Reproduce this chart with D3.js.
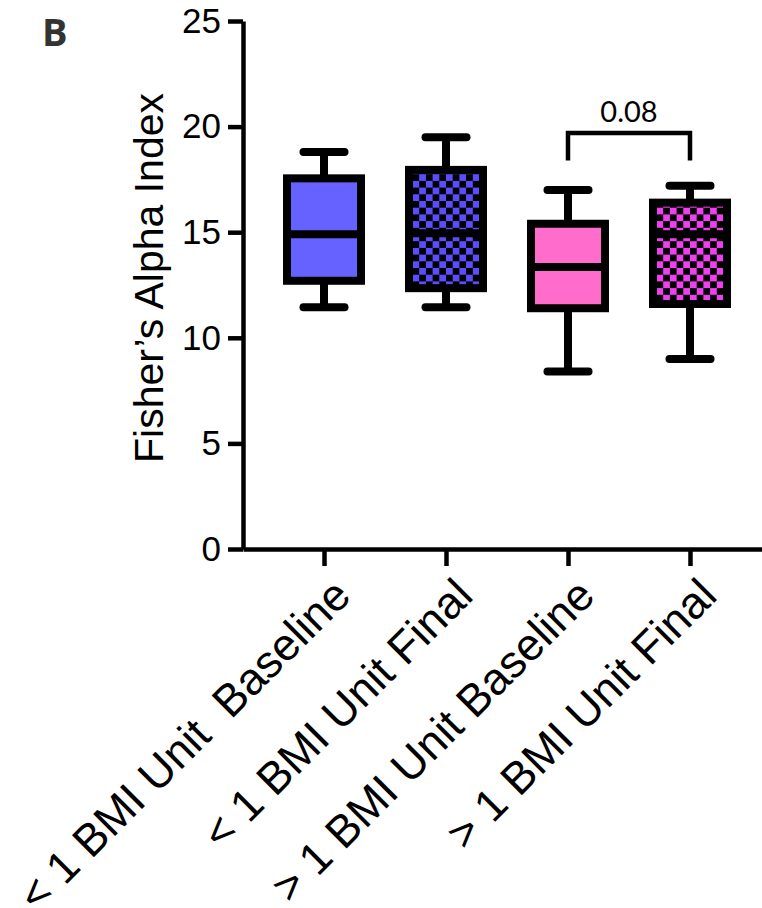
<!DOCTYPE html>
<html>
<head>
<meta charset="utf-8">
<script src="https://cdn.jsdelivr.net/npm/d3@7"></script>
<style>
  html, body { margin: 0; padding: 0; background: #fff; }
  svg { display: block; }
</style>
</head>
<body>
<svg id="chart" width="762" height="908"></svg>
<script>
// Fisher's alpha diversity by BMI-change group and time point
const groups = ["< 1 BMI Unit  Baseline", "< 1 BMI Unit Final", "> 1 BMI Unit Baseline", "> 1 BMI Unit Final"];
const whiskerLow  = [11.45, 11.45, 8.4, 9.0];
const quartile1   = [12.7, 12.35, 11.4, 11.6];
const medians     = [14.9, 14.95, 13.35, 14.9];
const quartile3   = [17.55, 17.95, 15.4, 16.4];
const whiskerHigh = [18.8, 19.5, 17.0, 17.2];
const fillColors  = ["#6562ff", "#5b4cff", "#ff6ccb", "#f03ff0"];
const checkered   = [false, true, false, true];
const yTicks = [0, 5, 10, 15, 20, 25];

// comparison bracket between the two ">1 BMI Unit" groups
const comparison = { from: 2, to: 3, level: 19.7, drop: 18.4, label: "0.08" };

const svg = d3.select("#chart");
const font = "'Liberation Sans', Arial, sans-serif";

const y = d3.scaleLinear().domain([0, 25]).range([549, 21]);
const x = d3.scalePoint().domain(groups).range([243, 771]).padding(0.664);

const boxW = 74, capHalf = 20.5, lw = 8;

// checkerboard fills
const defs = svg.append("defs");
groups.forEach((g, i) => {
  if (!checkered[i]) return;
  const p = defs.append("pattern")
    .attr("id", "check" + i)
    .attr("patternUnits", "userSpaceOnUse")
    .attr("width", 13.4).attr("height", 13.4);
  p.append("rect").attr("width", 13.4).attr("height", 13.4).attr("fill", "#000");
  p.append("rect").attr("x", 0).attr("y", 0).attr("width", 6.7).attr("height", 6.7).attr("fill", fillColors[i]);
  p.append("rect").attr("x", 6.7).attr("y", 6.7).attr("width", 6.7).attr("height", 6.7).attr("fill", fillColors[i]);
});

// panel letter
svg.append("text")
  .attr("x", 42).attr("y", 46)
  .attr("font-family", "'Open Sans', sans-serif")
  .attr("font-weight", 700)
  .attr("font-size", 38)
  .attr("fill", "#333")
  .text("B");

// y axis
const yAxis = svg.append("g")
  .attr("transform", `translate(${x.range()[0]},0)`)
  .call(d3.axisLeft(y).tickValues(yTicks).tickSize(15).tickSizeOuter(0).tickPadding(7));
yAxis.select(".domain").attr("stroke", "#000").attr("stroke-width", 4.5);
yAxis.selectAll(".tick line").attr("stroke", "#000").attr("stroke-width", 4.5);
yAxis.selectAll(".tick text")
  .attr("font-family", font).attr("font-size", 35).attr("fill", "#000");

// x axis
const xAxis = svg.append("g")
  .attr("transform", `translate(0,${y(0)})`)
  .call(d3.axisBottom(x).tickSize(17).tickSizeOuter(0).tickFormat(""));
xAxis.select(".domain").attr("stroke", "#000").attr("stroke-width", 4.5);
xAxis.selectAll(".tick line").attr("stroke", "#000").attr("stroke-width", 4.5);

// rotated category labels
svg.append("g").selectAll("text")
  .data(groups)
  .join("text")
  .attr("transform", d => `translate(${x(d) + 29},${y(0) + 49}) rotate(-45)`)
  .attr("text-anchor", "end")
  .attr("font-family", font)
  .attr("font-size", 45)
  .attr("fill", "#000")
  .style("white-space", "pre")
  .text(d => d);

// y axis title
svg.append("text")
  .attr("transform", "translate(163,278) rotate(-90)")
  .attr("text-anchor", "middle")
  .attr("font-family", font)
  .attr("font-size", 41)
  .attr("fill", "#000")
  .text("Fisher\u2019s Alpha Index");

// boxes
const box = svg.append("g").selectAll("g")
  .data(groups.map((g, i) => ({ g, i })))
  .join("g")
  .attr("transform", d => `translate(${x(d.g)},0)`);

box.append("line")
  .attr("x1", 0).attr("x2", 0)
  .attr("y1", d => y(whiskerLow[d.i])).attr("y2", d => y(whiskerHigh[d.i]))
  .attr("stroke", "#000").attr("stroke-width", lw);

["low", "high"].forEach(k => {
  box.append("line")
    .attr("x1", -capHalf).attr("x2", capHalf)
    .attr("y1", d => y(k === "low" ? whiskerLow[d.i] : whiskerHigh[d.i]))
    .attr("y2", d => y(k === "low" ? whiskerLow[d.i] : whiskerHigh[d.i]))
    .attr("stroke", "#000").attr("stroke-width", lw)
    .attr("stroke-linecap", "round");
});

box.append("rect")
  .attr("x", -boxW / 2).attr("width", boxW)
  .attr("y", d => y(quartile3[d.i]))
  .attr("height", d => y(quartile1[d.i]) - y(quartile3[d.i]))
  .attr("fill", d => checkered[d.i] ? `url(#check${d.i})` : fillColors[d.i])
  .attr("stroke", "#000").attr("stroke-width", lw);

box.append("line")
  .attr("x1", -boxW / 2).attr("x2", boxW / 2)
  .attr("y1", d => y(medians[d.i])).attr("y2", d => y(medians[d.i]))
  .attr("stroke", "#000").attr("stroke-width", lw);

// significance bracket
const bx1 = x(groups[comparison.from]), bx2 = x(groups[comparison.to]);
svg.append("path")
  .attr("d", `M${bx1},${y(comparison.drop)}V${y(comparison.level)}H${bx2}V${y(comparison.drop)}`)
  .attr("fill", "none").attr("stroke", "#000").attr("stroke-width", 4.5)
  .attr("stroke-linejoin", "miter");
svg.append("text")
  .attr("x", (bx1 + bx2) / 2).attr("y", y(comparison.level) - 11)
  .attr("text-anchor", "middle")
  .attr("font-family", "Lato, 'Open Sans', sans-serif")
  .attr("font-size", 29)
  .attr("fill", "#000")
  .text(comparison.label);
</script>
</body>
</html>
